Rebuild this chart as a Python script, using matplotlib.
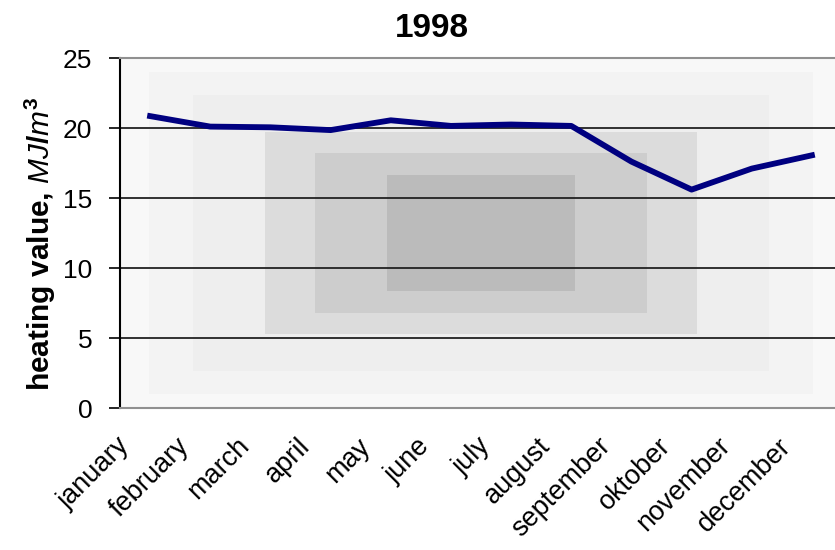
import numpy as np
import matplotlib
matplotlib.use('Agg')
import matplotlib.pyplot as plt
import matplotlib.transforms as mtransforms

plt.rcParams['font.family'] = ['Liberation Sans', 'DejaVu Sans']
plt.rcParams['mathtext.fontset'] = 'custom'
plt.rcParams['mathtext.it'] = 'Liberation Sans:italic'
plt.rcParams['mathtext.rm'] = 'Liberation Sans:bold'

months = ['january', 'february', 'march', 'april', 'may', 'june', 'july',
          'august', 'september', 'oktober', 'november', 'december']
heating = [20.85, 20.1, 20.05, 19.85, 20.55, 20.15, 20.25, 20.15, 17.6, 15.6, 17.1, 18.05]
yticks = [0, 5, 10, 15, 20, 25]

fig = plt.figure(figsize=(8.35, 5.5), dpi=100)
ax = fig.add_axes([120 / 835, 1 - 408 / 550, 722 / 835, 350 / 550])

# stepped rectangular shading, darkest in the middle
nx, ny = 722, 350
xx = np.abs(np.linspace(0, 1, nx) - 0.5) / 0.5
yy = np.abs(np.linspace(1, 0, ny) - 0.5) / 0.5
rings = [(1.01, 1.01, '#f8f8f8'), (0.92, 0.92, '#f3f3f3'), (0.8, 0.79, '#eeeeee'),
         (0.6, 0.58, '#dcdcdc'), (0.46, 0.46, '#cdcdcd'), (0.26, 0.33, '#bbbbbb')]
img = np.ones((ny, nx, 3))
for hx, hy, c in rings:
    mask = (xx[None, :] <= hx) & (yy[:, None] <= hy)
    img[mask] = matplotlib.colors.to_rgb(c)
ax.imshow(img, extent=(0, 1, 0, 1), transform=ax.transAxes, aspect='auto',
          interpolation='nearest', zorder=0)

x = np.arange(len(months))
for v in yticks[1:-1]:
    ax.axhline(v, color='#222222', lw=1.3, zorder=1)
ax.plot(x, heating, color='#000080', lw=4.2, solid_joinstyle='round', zorder=3)

ax.set_xlim(-0.5, len(months) - 0.5)
ax.set_ylim(0, 25)
ax.set_yticks(yticks)
ax.set_xticks(x)
ax.set_xticklabels([])
ax.tick_params(axis='x', length=0)
ax.tick_params(axis='y', direction='out', length=8, width=1.2, labelsize=19, pad=12)

# month names, slanted and set a little left of each category
lab_tr = ax.get_xaxis_transform() + mtransforms.ScaledTranslation(-0.34, -0.25, fig.dpi_scale_trans)
for xi, m in zip(x, months):
    ax.text(xi, 0, m, transform=lab_tr, rotation=45, ha='right', va='top',
            rotation_mode='anchor', fontsize=19.5, clip_on=False)

ax.spines['left'].set_color('black')
ax.spines['left'].set_linewidth(1.5)
for s in ['top', 'bottom']:
    ax.spines[s].set_color('#909090')
    ax.spines[s].set_linewidth(1.5)
ax.spines['right'].set_visible(False)

ax.set_ylabel('heating value, $\\mathit{MJ/m}^{3}$', fontsize=21.5, fontweight='bold')
ax.yaxis.set_label_coords(-62 / 722, 0.47)
fig.text(432 / 835, 1 - 37 / 550, '1998', ha='center', va='baseline',
         fontsize=24, fontweight='bold')

fig.savefig('out.png', dpi=100)
